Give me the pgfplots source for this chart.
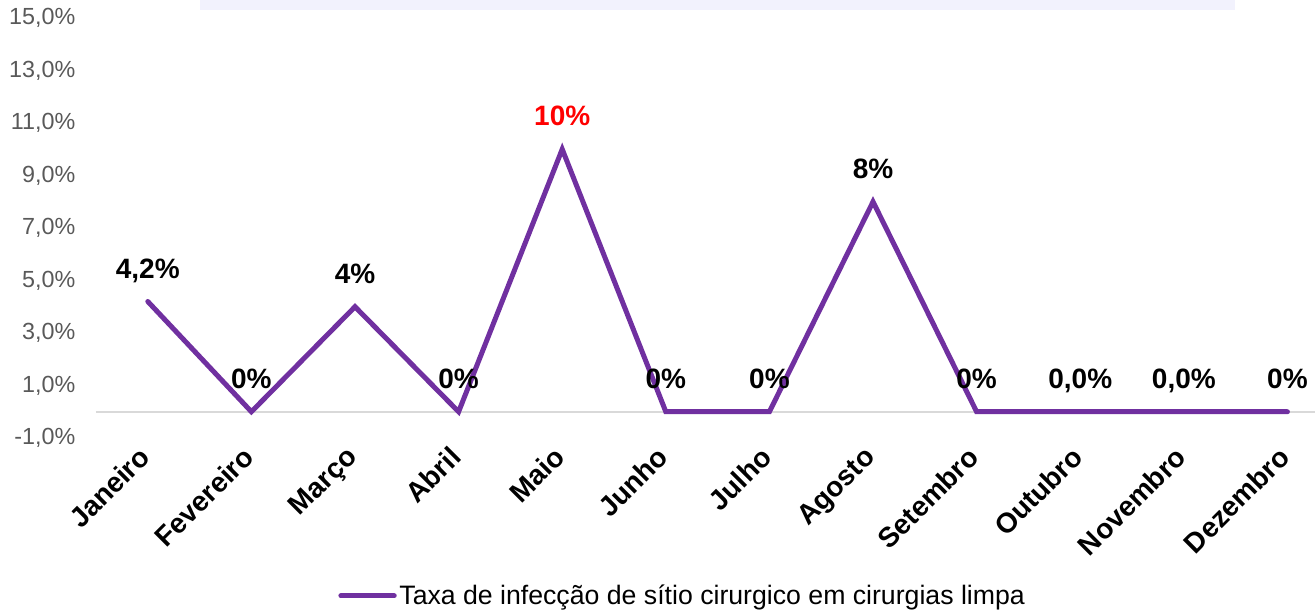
\documentclass[border=0pt]{standalone}
\usepackage{pgfplots}
\pgfplotsset{compat=1.18}
\usepackage{pgfplotstable}
\usepackage{fontspec}
\setmainfont{Liberation Sans}
\definecolor{linepurple}{HTML}{7030A0}
\definecolor{tickgray}{HTML}{595959}
\definecolor{zerogray}{HTML}{D9D9D9}
\definecolor{lavender}{HTML}{F2F2FD}

\pgfplotstableread{
x y
0 4.2
1 0
2 4
3 0
4 10
5 0
6 0
7 8
8 0
9 0
10 0
11 0
}\rates
\pgfplotstableread{
x y lab
0 4.2 4,2
1 0 0
2 4 4
3 0 0
5 0 0
6 0 0
7 8 8
8 0 0
9 0 0,0
10 0 0,0
11 0 0
}\blacklabels
\pgfplotstableread{
x y lab
4 10 10
}\redlabels

\begin{document}
\begin{tikzpicture}
\path[use as bounding box] (0pt,0pt) rectangle (986.25pt,459.75pt);
\fill[lavender] (150pt,452.25pt) rectangle (926.25pt,459.75pt);
\begin{axis}[
  at={(72pt,131.25pt)}, anchor=south west,
  scale only axis, width=914.25pt, height=315pt,
  xmin=-0.5, xmax=11.266, ymin=-1, ymax=15,
  axis line style={draw=none},
  tick style={draw=none},
  xtick={0,...,11},
  xticklabels={Janeiro,Fevereiro,Março,Abril,Maio,Junho,Julho,Agosto,Setembro,Outubro,Novembro,Dezembro},
  xticklabel style={rotate=45, anchor=north east, font=\fontsize{21}{24}\selectfont\bfseries, text=black, inner sep=1pt, xshift=-8pt, yshift=3pt},
  ytick={-1,1,3,5,7,9,11,13,15},
  yticklabels={{-1,0\%},{1,0\%},{3,0\%},{5,0\%},{7,0\%},{9,0\%},{11,0\%},{13,0\%},{15,0\%}},
  yticklabel style={font=\fontsize{17.5}{19}\selectfont, text=tickgray, xshift=-12pt},
  extra y ticks={0},
  extra y tick labels={},
  extra y tick style={grid=major, major grid style={draw=zerogray, line width=1.2pt}},
  clip=false,
  legend style={draw=none, fill=none, at={(0.4815,-0.376)}, anchor=center,
    font=\fontsize{20}{23}\selectfont},
  legend image code/.code={\draw[#1, line width=3.75pt, line cap=round] (0pt,0pt) -- (40pt,0pt);},
]
\addplot[color=linepurple, line width=3.75pt, line cap=round, line join=miter, mark=none] table[x=x, y=y] {\rates};
\addlegendentry{Taxa de infecção de sítio cirurgico em cirurgias limpa}
\addplot[draw=none, mark=none, forget plot, point meta=explicit symbolic,
  nodes near coords={\pgfplotspointmeta\%},
  every node near coord/.append style={anchor=base, yshift=17.5pt, font=\fontsize{21}{24}\selectfont\bfseries, text=black}]
  table[x=x, y=y, meta=lab] {\blacklabels};
\addplot[draw=none, mark=none, forget plot, point meta=explicit symbolic,
  nodes near coords={\pgfplotspointmeta\%},
  every node near coord/.append style={anchor=base, yshift=17.5pt, font=\fontsize{21}{24}\selectfont\bfseries, text=red}]
  table[x=x, y=y, meta=lab] {\redlabels};
\end{axis}
\end{tikzpicture}
\end{document}
